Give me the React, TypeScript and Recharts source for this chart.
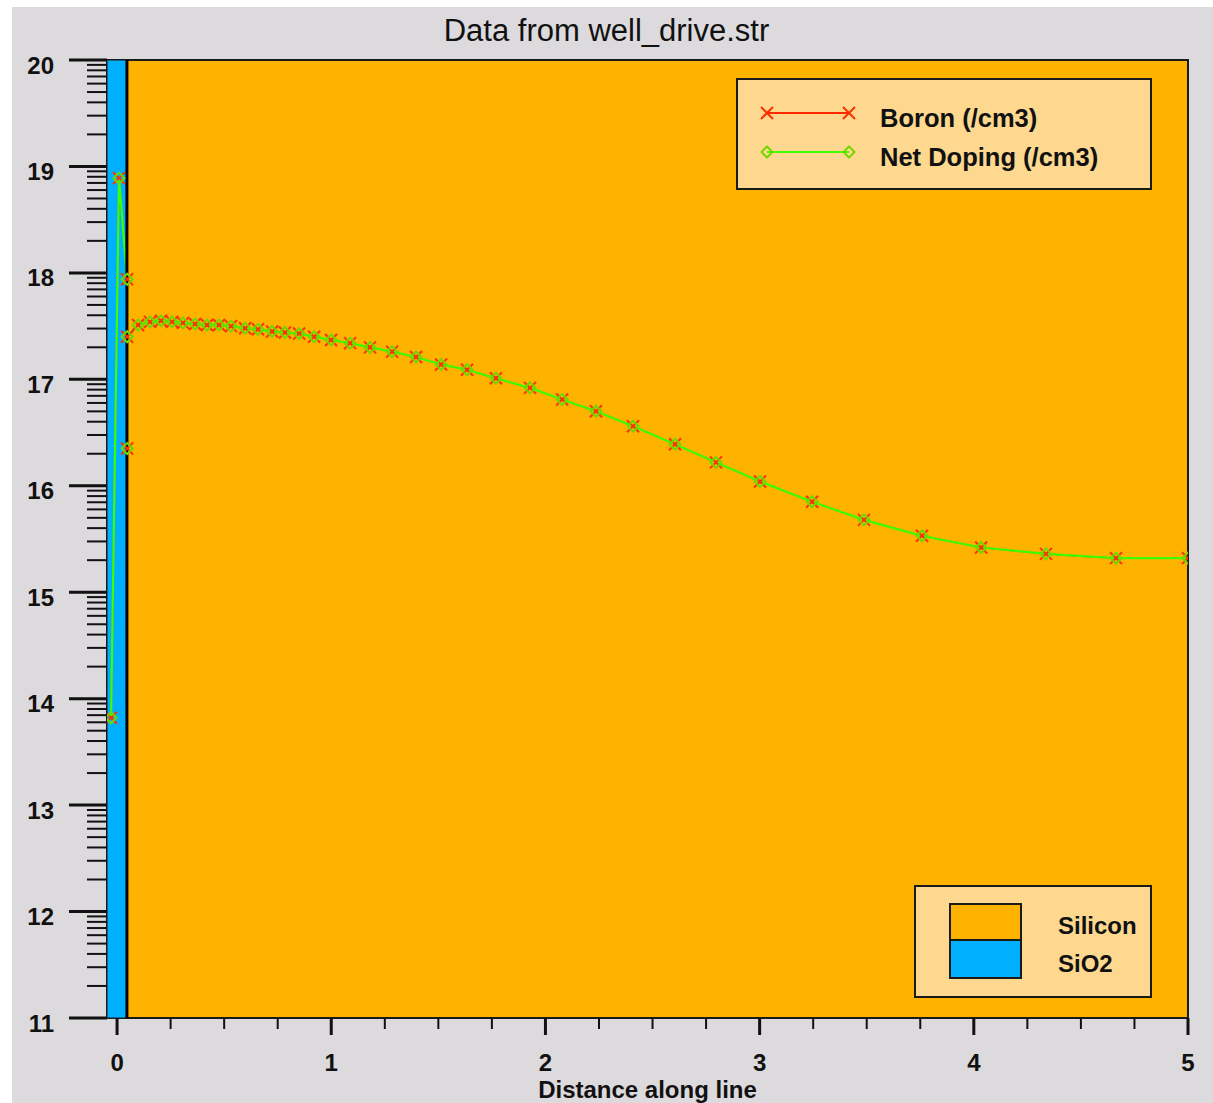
import React from 'react'
import { Legend, Line, LineChart, ReferenceArea, ReferenceLine, XAxis, YAxis } from 'recharts'

// distance along the cut line (um)
const distance = [
  -0.028, 0.009, 0.047, 0.047, 0.047, 0.098, 0.154, 0.205, 0.257, 0.308, 0.364, 0.42, 0.476, 0.532,
  0.598, 0.658, 0.724, 0.784, 0.85, 0.92, 0.999, 1.088, 1.181, 1.284, 1.396, 1.513, 1.634, 1.769,
  1.928, 2.078, 2.236, 2.409, 2.605, 2.796, 3.002, 3.245, 3.487, 3.758, 4.034, 4.337, 4.664, 5.0,
]

// log10 of concentration
const boron = [
  13.82, 18.89, 17.94, 16.35, 17.4, 17.51, 17.54, 17.55, 17.54, 17.53, 17.52, 17.51, 17.51, 17.5,
  17.48, 17.47, 17.45, 17.44, 17.43, 17.4, 17.37, 17.34, 17.3, 17.26, 17.21, 17.14, 17.09, 17.01,
  16.92, 16.81, 16.7, 16.56, 16.39, 16.22, 16.04, 15.85, 15.68, 15.53, 15.42, 15.36, 15.32, 15.32,
]

const netDoping = [
  13.82, 18.89, 17.94, 16.35, 17.4, 17.51, 17.54, 17.55, 17.54, 17.53, 17.52, 17.51, 17.51, 17.5,
  17.48, 17.47, 17.45, 17.44, 17.43, 17.4, 17.37, 17.34, 17.3, 17.26, 17.21, 17.14, 17.09, 17.01,
  16.92, 16.81, 16.7, 16.56, 16.39, 16.22, 16.04, 15.85, 15.68, 15.53, 15.42, 15.36, 15.32, 15.32,
]

const xTicks = [
  0, 0.25, 0.5, 0.75, 1, 1.25, 1.5, 1.75, 2, 2.25, 2.5, 2.75, 3, 3.25, 3.5, 3.75, 4, 4.25, 4.5, 4.75, 5,
]
const yDecades = [11, 12, 13, 14, 15, 16, 17, 18, 19, 20]

const materials = [
  { name: 'Silicon', color: '#fdb300' },
  { name: 'SiO2', color: '#00b0ff' },
]

const X_MIN = -0.047
const X_MAX = 5
const INTERFACE = 0.046

const FONT = '"Liberation Sans", Arial, Helvetica, sans-serif'
const LEGEND_BG = '#fdd88e'

// log-style minor ticks between decades
const yTicks: number[] = []
yDecades.forEach((d, i) => {
  yTicks.push(d)
  if (i < yDecades.length - 1) {
    for (let k = 2; k <= 9; k++) yTicks.push(d + Math.log10(k))
  }
})

const data = distance.map((x, i) => ({ x, boron: boron[i], net: netDoping[i] }))

const isWhole = (v: number) => Math.abs(v - Math.round(v)) < 1e-6

const XTick = (props: any) => {
  const { x, y, payload } = props
  const major = isWhole(payload.value)
  return (
    <g>
      <line x1={x} x2={x} y1={y} y2={y + (major ? 17 : 11)} stroke="#111" strokeWidth={major ? 3 : 2} />
      {major && (
        <text x={x} y={y + 44} textAnchor="middle" dominantBaseline="central" fontFamily={FONT} fontWeight="bold" fontSize={24} fill="#111">
          {Math.round(payload.value)}
        </text>
      )}
    </g>
  )
}

const YTick = (props: any) => {
  const { x, y, payload } = props
  const major = isWhole(payload.value)
  return (
    <g>
      <line x1={x - (major ? 38 : 20)} x2={x} y1={y} y2={y} stroke="#111" strokeWidth={major ? 3 : 2} />
      {major && (
        <text x={x - 53} y={y + 5} textAnchor="end" dominantBaseline="central" fontFamily={FONT} fontWeight="bold" fontSize={24} fill="#111">
          {Math.round(payload.value)}
        </text>
      )}
    </g>
  )
}

const XMark = ({ cx, cy, color, size = 6 }: { cx: number; cy: number; color: string; size?: number }) => (
  <g>
    <line x1={cx - size} y1={cy - size} x2={cx + size} y2={cy + size} stroke={color} strokeWidth={2} />
    <line x1={cx - size} y1={cy + size} x2={cx + size} y2={cy - size} stroke={color} strokeWidth={2} />
  </g>
)

const Diamond = ({ cx, cy, color, size = 5.5 }: { cx: number; cy: number; color: string; size?: number }) => (
  <polygon
    points={`${cx},${cy - size} ${cx + size},${cy} ${cx},${cy + size} ${cx - size},${cy}`}
    fill="none"
    stroke={color}
    strokeWidth={2}
  />
)

const SeriesLegend = (props: any) => {
  const items = props.payload || []
  return (
    <div
      style={{
        width: 416,
        height: 112,
        boxSizing: 'border-box',
        border: '2px solid #1a1a1a',
        background: LEGEND_BG,
        position: 'relative',
      }}
    >
      {items.map((it: any, i: number) => {
        const top = 33 + i * 39
        const isBoron = i === 0
        return (
          <React.Fragment key={it.value}>
            <svg width={96} height={16} style={{ position: 'absolute', left: 22, top: top - 8 }}>
              <line x1={7} x2={89} y1={8} y2={8} stroke={it.color} strokeWidth={2} />
              {isBoron ? (
                <>
                  <XMark cx={7} cy={8} color="#ff3000" />
                  <XMark cx={89} cy={8} color="#ff3000" />
                </>
              ) : (
                <>
                  <Diamond cx={7} cy={8} color="#7ad400" />
                  <Diamond cx={89} cy={8} color="#7ad400" />
                </>
              )}
            </svg>
            <div
              style={{
                position: 'absolute',
                left: 142,
                top: top + 5 - 14,
                lineHeight: '28px',
                fontFamily: FONT,
                fontWeight: 'bold',
                fontSize: 25.5,
                color: '#111',
                whiteSpace: 'nowrap',
              }}
            >
              {it.value}
            </div>
          </React.Fragment>
        )
      })}
    </div>
  )
}

const MaterialLegend = () => (
  <div
    style={{
      position: 'absolute',
      left: 914,
      top: 885,
      width: 238,
      height: 113,
      boxSizing: 'border-box',
      border: '2px solid #1a1a1a',
      background: LEGEND_BG,
    }}
  >
    {materials.map((m, i) => (
      <React.Fragment key={m.name}>
        <div
          style={{
            position: 'absolute',
            left: 33,
            top: 16 + i * 38,
            width: 73,
            height: 38,
            boxSizing: 'border-box',
            border: '2px solid #1a1a1a',
            borderTopWidth: i === 0 ? 2 : 0,
            background: m.color,
          }}
        />
        <div
          style={{
            position: 'absolute',
            left: 142,
            top: 39 + i * 38 - 14,
            lineHeight: '28px',
            fontFamily: FONT,
            fontWeight: 'bold',
            fontSize: 24,
            color: '#111',
          }}
        >
          {m.name}
        </div>
      </React.Fragment>
    ))}
  </div>
)

export default function App() {
  return (
    <div style={{ position: 'absolute', left: 0, top: 0, width: 1213, height: 1103, background: '#fff', overflow: 'hidden' }}>
      <div style={{ position: 'absolute', left: 12, top: 7, width: 1201, height: 1096, background: '#dddadd' }} />
      <div
        style={{
          position: 'absolute',
          left: 0,
          width: 1213,
          top: 13,
          textAlign: 'center',
          fontFamily: FONT,
          fontSize: 31,
          lineHeight: '36px',
          color: '#111',
        }}
      >
        Data from well_drive.str
      </div>
      <div style={{ position: 'absolute', left: 0, top: 0 }}>
        <LineChart width={1213} height={1103} data={data} margin={{ top: 60, right: 25, left: 12, bottom: 0 }}>
          <ReferenceArea x1={X_MIN} x2={X_MAX} y1={11} y2={20} fill="#fdb300" fillOpacity={1} stroke="#1a1a1a" strokeWidth={2} />
          <ReferenceArea x1={X_MIN} x2={INTERFACE} y1={11} y2={20} fill="#00b0ff" fillOpacity={1} stroke="#1a1a1a" strokeWidth={1} />
          <XAxis
            type="number"
            dataKey="x"
            domain={[X_MIN, X_MAX]}
            ticks={xTicks}
            interval={0}
            tick={<XTick />}
            tickLine={false}
            axisLine={false}
            tickSize={0}
            tickMargin={0}
            height={85}
            allowDataOverflow
            label={{
              value: 'Distance along line',
              position: 'insideBottom',
              offset: 5,
              fontFamily: FONT,
              fontWeight: 'bold',
              fontSize: 24,
              fill: '#111',
            }}
          />
          <YAxis
            type="number"
            domain={[11, 20]}
            ticks={yTicks}
            interval={0}
            tick={<YTick />}
            tickLine={false}
            axisLine={false}
            tickSize={0}
            tickMargin={0}
            width={95}
            allowDataOverflow
          />
          <Legend
            layout="horizontal"
            verticalAlign="middle"
            align="center"
            content={<SeriesLegend />}
            wrapperStyle={{ position: 'absolute', left: 736, top: 78, width: 416, height: 112 }}
          />
          <Line
            type="linear"
            dataKey="boron"
            name="Boron (/cm3)"
            stroke="#ff2800"
            strokeWidth={1.5}
            isAnimationActive={false}
            dot={(p: any) => <XMark key={`b-${p.index}`} cx={p.cx} cy={p.cy} color="#ff3000" />}
            activeDot={false}
          />
          <Line
            type="linear"
            dataKey="net"
            name="Net Doping (/cm3)"
            stroke="#3cff00"
            strokeWidth={2.2}
            isAnimationActive={false}
            dot={(p: any) => <Diamond key={`n-${p.index}`} cx={p.cx} cy={p.cy} color="#6ed800" />}
            activeDot={false}
          />
          <ReferenceLine x={INTERFACE} stroke="#000" strokeWidth={3} zIndex={450} />
        </LineChart>
      </div>
      <MaterialLegend />
    </div>
  )
}
